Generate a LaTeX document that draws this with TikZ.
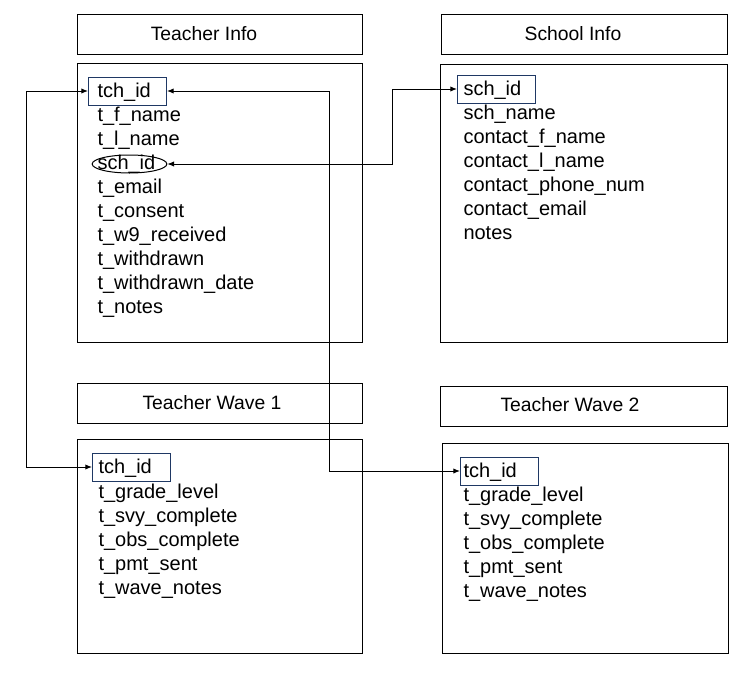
\documentclass[tikz,border=0pt]{standalone}
\usepackage{fontspec}
\setmainfont{Liberation Sans}
\usetikzlibrary{arrows.meta,shapes.geometric}
\definecolor{keyblue}{RGB}{31,56,100}
\tikzset{
	field/.style={anchor=base west, inner sep=0pt, font=\fontsize{15}{18}\selectfont},
	keybox/.style={draw=keyblue, anchor=base west, inner xsep=4.5pt, inner ysep=0pt,
		text height=15pt, text depth=6pt, text width=49.5pt, align=left,
		font=\fontsize{15}{18}\selectfont},
	head/.style={inner sep=0pt, font=\fontsize{14.5}{17}\selectfont},
	link/.style={{Latex[length=5pt,width=4pt]}-{Latex[length=5pt,width=4pt]}}
}
\begin{document}
\begin{tikzpicture}[x=0.75pt,y=-0.75pt,line width=0.75pt]
	\useasboundingbox (0,0) rectangle (752,678);
	\draw (77,14) rectangle (362,54);
	\draw (77,63) rectangle (362,342);
	\draw (441,14) rectangle (727,54);
	\draw (440,64) rectangle (727,342);
	\draw (77,383) rectangle (362,423);
	\draw (77,439) rectangle (362,653);
	\draw (440,386) rectangle (727,426);
	\draw (442,443) rectangle (728,653);
	\node[head] (tihead) at (204,34) {Teacher Info};
	\node[head] (sihead) at (573,34) {School Info};
	\node[head] (w1head) at (212,403) {Teacher Wave 1};
	\node[head] (w2head) at (570,405) {Teacher Wave 2};
	\node[keybox, inner xsep=6.75pt, text width=45pt] (tikey) at (88,97) {tch\_id};
	\node[keybox] (sikey) at (457,95) {sch\_id};
	\node[keybox] (w1key) at (92,473) {tch\_id};
	\node[keybox, inner xsep=2.25pt, text width=54pt] (w2key) at (460,477) {tch\_id};
	\foreach \f [count=\i] in {t\_f\_name,t\_l\_name,sch\_id,t\_email,t\_consent,
		t\_w9\_received,t\_withdrawn,t\_withdrawn\_date,t\_notes}
		\node[field] (ti\i) at (97,{97+24*\i}) {\f};
	\foreach \f [count=\i] in {sch\_name,contact\_f\_name,contact\_l\_name,
		contact\_phone\_num,contact\_email,notes}
		\node[field] (si\i) at (463,{95+24*\i}) {\f};
	\foreach \f [count=\i] in {t\_grade\_level,t\_svy\_complete,t\_obs\_complete,
		t\_pmt\_sent,t\_wave\_notes}
	{
		\node[field] (wa\i) at (98,{474+24*\i}) {\f};
		\node[field] (wb\i) at (463,{477+24*\i}) {\f};
	}
	\node[draw, ellipse, minimum width=56pt, minimum height=13.5pt, inner sep=0pt] (tiring) at (129.5,164) {};
	\draw[link] (tikey.west) -- ++(-62,0) |- (w1key.west);
	\draw[link] (tikey.east) -- ++(162,0) |- (w2key.west);
	\draw[link] (tiring.east) -- ++(225,0) |- (sikey.west);
\end{tikzpicture}
\end{document}
